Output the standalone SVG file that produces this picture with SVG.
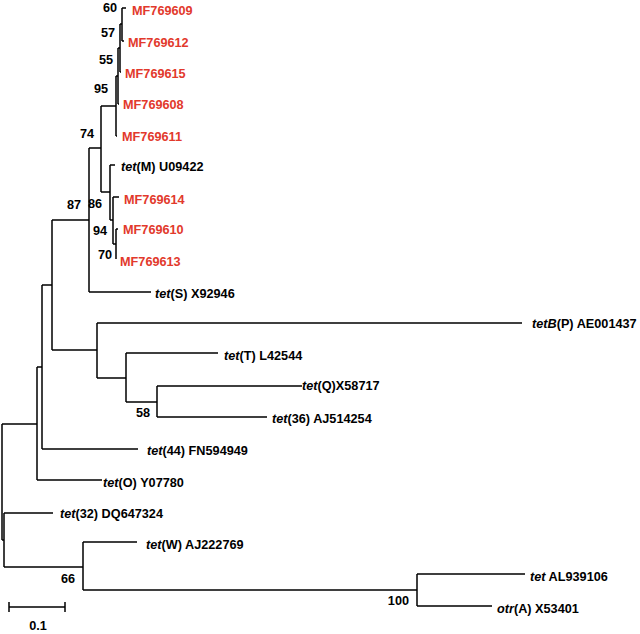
<svg xmlns="http://www.w3.org/2000/svg" width="640" height="634" viewBox="0 0 640 634">
<style>
text{font-family:"Liberation Sans",Arial,sans-serif;font-weight:bold;font-size:12.7px;fill:#000}
.mf{fill:#e2392c}
.bs{text-anchor:end}
.i{font-style:italic}
#branches path{fill:none;stroke:#000;stroke-width:1.5}
</style>
<rect width="640" height="634" fill="#fff"/>
<g id="branches">
<path d="M2,424V540M2,424H37M2,540H4"/>
<path d="M37,367V480M37,367H42M37,480H102"/>
<path d="M42,285V449M42,285H52M42,449H138"/>
<path d="M52,220V350M52,220H89M52,350H97"/>
<path d="M89,148V292M89,148H101M89,292H151"/>
<path d="M101,106V192M101,106H116M101,192H110"/>
<path d="M116,76V136M116,76H118M116,136H117"/>
<path d="M118,48V104M118,48H120M118,104H119"/>
<path d="M120,24V72M120,24H122M120,72H121"/>
<path d="M122,8V41M122,8H126M122,41H124"/>
<path d="M110,165V220M110,165H115M110,220H113"/>
<path d="M113,197V244M113,197H119M113,244H116"/>
<path d="M116,229V259M116,229H118"/>
<path d="M97,323V378M97,323H522M97,378H126"/>
<path d="M126,353V402M126,353H218M126,402H157"/>
<path d="M157,386V417M157,386H302M157,417H267"/>
<path d="M4,513V567M4,513H53M4,567H83"/>
<path d="M83,542V590M83,542H137M83,590H417"/>
<path d="M417,574V606M417,574H525M417,606H492"/>
</g>
<g id="leaf-MF769609"><text class="mf" x="132" y="14.5">MF769609</text></g>
<g id="leaf-MF769612"><text class="mf" x="128" y="46.5">MF769612</text></g>
<g id="leaf-MF769615"><text class="mf" x="125" y="77.5">MF769615</text></g>
<g id="leaf-MF769608"><text class="mf" x="123" y="108.5">MF769608</text></g>
<g id="leaf-MF769611"><text class="mf" x="122" y="140.5">MF769611</text></g>
<g id="leaf-tetM"><text x="121" y="171"><tspan class="i">tet</tspan>(M) U09422</text></g>
<g id="leaf-MF769614"><text class="mf" x="124" y="203.5">MF769614</text></g>
<g id="leaf-MF769610"><text class="mf" x="123" y="233.5">MF769610</text></g>
<g id="leaf-MF769613"><text class="mf" x="120" y="265.5">MF769613</text></g>
<g id="leaf-tetS"><text x="155" y="297.5"><tspan class="i">tet</tspan>(S) X92946</text></g>
<g id="leaf-tetBP"><text x="532" y="327.5"><tspan class="i">tetB</tspan>(P) AE001437</text></g>
<g id="leaf-tetT"><text x="224" y="360"><tspan class="i">tet</tspan>(T) L42544</text></g>
<g id="leaf-tetQ"><text x="302" y="390"><tspan class="i">tet</tspan>(Q)X58717</text></g>
<g id="leaf-tet36"><text x="272" y="423"><tspan class="i">tet</tspan>(36) AJ514254</text></g>
<g id="leaf-tet44"><text x="147" y="455"><tspan class="i">tet</tspan>(44) FN594949</text></g>
<g id="leaf-tetO"><text x="103" y="487"><tspan class="i">tet</tspan>(O) Y07780</text></g>
<g id="leaf-tet32"><text x="60" y="518"><tspan class="i">tet</tspan>(32) DQ647324</text></g>
<g id="leaf-tetW"><text x="146" y="549"><tspan class="i">tet</tspan>(W) AJ222769</text></g>
<g id="leaf-tetAL"><text x="530" y="581"><tspan class="i">tet</tspan> AL939106</text></g>
<g id="leaf-otrA"><text x="497" y="613"><tspan class="i">otr</tspan>(A) X53401</text></g>
<g id="support-60"><text class="bs" x="117" y="11.5">60</text></g>
<g id="support-57"><text class="bs" x="115" y="36.5">57</text></g>
<g id="support-55"><text class="bs" x="113" y="63.5">55</text></g>
<g id="support-95"><text class="bs" x="108" y="92.5">95</text></g>
<g id="support-74"><text class="bs" x="94" y="137.5">74</text></g>
<g id="support-87"><text class="bs" x="81" y="208.5">87</text></g>
<g id="support-86"><text class="bs" x="102" y="207.5">86</text></g>
<g id="support-94"><text class="bs" x="107" y="234.5">94</text></g>
<g id="support-70"><text class="bs" x="112" y="258.5">70</text></g>
<g id="support-58"><text class="bs" x="150" y="416.5">58</text></g>
<g id="support-66"><text class="bs" x="75" y="582.5">66</text></g>
<g id="support-100"><text class="bs" x="409" y="604.5">100</text></g>
<g id="scale-bar">
<path d="M9,607H65M9,602V612M65,602V612" fill="none" stroke="#000" stroke-width="1.5"/>
<text x="38" y="629.5" text-anchor="middle">0.1</text>
</g>
</svg>
